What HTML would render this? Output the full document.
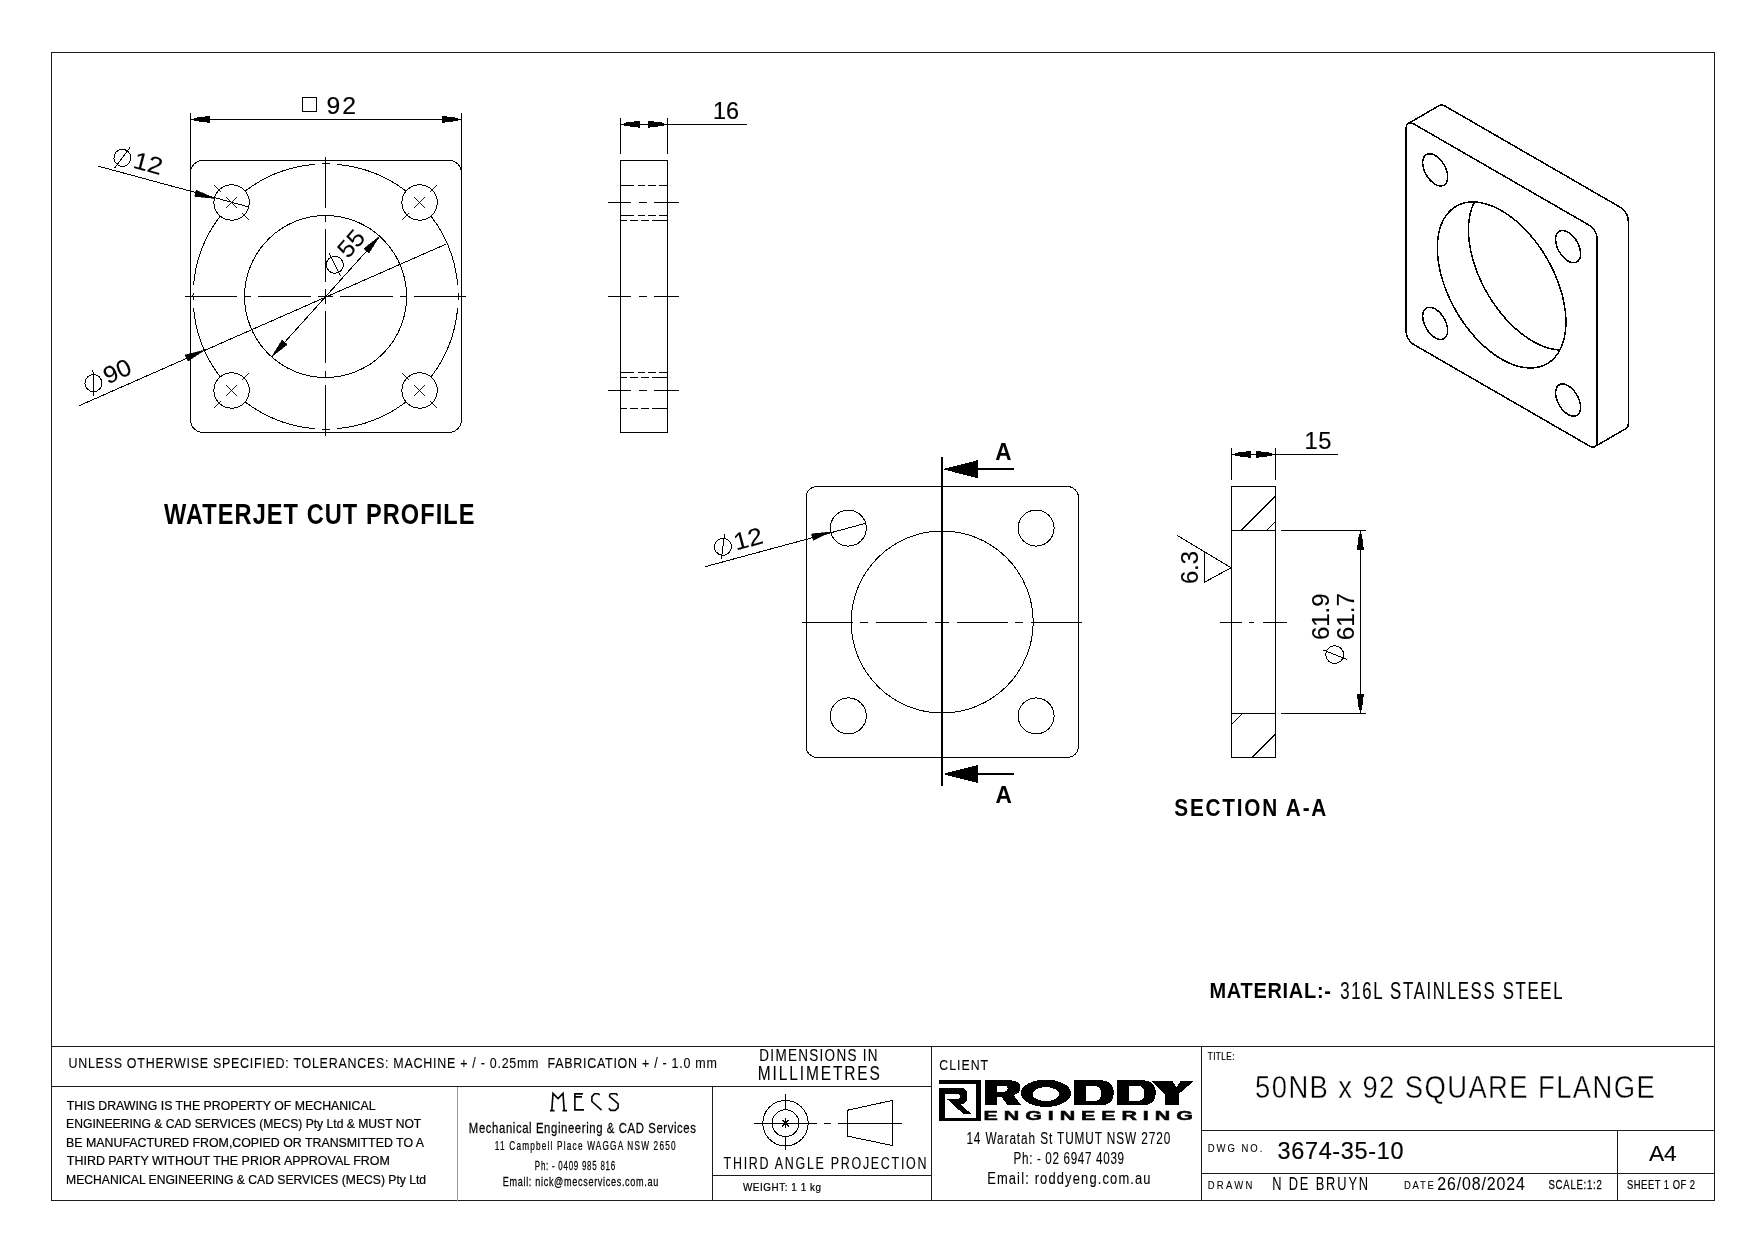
<!DOCTYPE html>
<html><head><meta charset="utf-8"><style>
html,body{margin:0;padding:0;background:#fff;overflow:hidden;}
svg{display:block;will-change:transform;}
text{font-family:"Liberation Sans",sans-serif;}
</style></head><body>
<svg width="1753" height="1240" viewBox="0 0 1753 1240" shape-rendering="crispEdges">
<rect x="0" y="0" width="1753" height="1240" fill="#fff"/>
<rect x="51.6" y="52.5" width="1662.8" height="1148" fill="none" stroke="#1a1a22" stroke-width="1.3"/>
<line x1="51.6" y1="1046.5" x2="1714.4" y2="1046.5" stroke="#1a1a22" stroke-width="1.3"/>
<line x1="51.6" y1="1086.5" x2="931.5" y2="1086.5" stroke="#1a1a22" stroke-width="1.3"/>
<line x1="457.5" y1="1086.5" x2="457.5" y2="1200.5" stroke="#9a9a9a" stroke-width="1"/>
<line x1="712.5" y1="1086.5" x2="712.5" y2="1200.5" stroke="#1a1a22" stroke-width="1.3"/>
<line x1="712.5" y1="1175.3" x2="931.5" y2="1175.3" stroke="#1a1a22" stroke-width="1.3"/>
<line x1="931.5" y1="1046.5" x2="931.5" y2="1200.5" stroke="#1a1a22" stroke-width="1.3"/>
<line x1="1201.5" y1="1046.5" x2="1201.5" y2="1200.5" stroke="#1a1a22" stroke-width="1.3"/>
<line x1="1201.5" y1="1130.3" x2="1714.4" y2="1130.3" stroke="#1a1a22" stroke-width="1.3"/>
<line x1="1201.5" y1="1173.4" x2="1714.4" y2="1173.4" stroke="#1a1a22" stroke-width="1.3"/>
<line x1="1617.6" y1="1130.3" x2="1617.6" y2="1200.5" stroke="#1a1a22" stroke-width="1.3"/>
<rect x="190.5" y="160.4" width="271" height="272" rx="12.5" fill="none" stroke="#000" stroke-width="1"/>
<circle cx="231.6" cy="202.5" r="17.7" fill="none" stroke="#000" stroke-width="1"/>
<line x1="226.3" y1="197.2" x2="236.9" y2="207.8" stroke="#000" stroke-width="0.9"/>
<line x1="226.3" y1="207.8" x2="236.9" y2="197.2" stroke="#000" stroke-width="0.9"/>
<line x1="220.99" y1="191.89" x2="214.28" y2="185.18" stroke="#000" stroke-width="0.9"/>
<line x1="242.21" y1="213.11" x2="248.92" y2="219.82" stroke="#000" stroke-width="0.9"/>
<circle cx="419.6" cy="202.5" r="17.7" fill="none" stroke="#000" stroke-width="1"/>
<line x1="414.3" y1="197.2" x2="424.9" y2="207.8" stroke="#000" stroke-width="0.9"/>
<line x1="414.3" y1="207.8" x2="424.9" y2="197.2" stroke="#000" stroke-width="0.9"/>
<line x1="430.21" y1="191.89" x2="436.92" y2="185.18" stroke="#000" stroke-width="0.9"/>
<line x1="408.99" y1="213.11" x2="402.28" y2="219.82" stroke="#000" stroke-width="0.9"/>
<circle cx="231.6" cy="390.5" r="17.7" fill="none" stroke="#000" stroke-width="1"/>
<line x1="226.3" y1="385.2" x2="236.9" y2="395.8" stroke="#000" stroke-width="0.9"/>
<line x1="226.3" y1="395.8" x2="236.9" y2="385.2" stroke="#000" stroke-width="0.9"/>
<line x1="220.99" y1="401.11" x2="214.28" y2="407.82" stroke="#000" stroke-width="0.9"/>
<line x1="242.21" y1="379.89" x2="248.92" y2="373.18" stroke="#000" stroke-width="0.9"/>
<circle cx="419.6" cy="390.5" r="17.7" fill="none" stroke="#000" stroke-width="1"/>
<line x1="414.3" y1="385.2" x2="424.9" y2="395.8" stroke="#000" stroke-width="0.9"/>
<line x1="414.3" y1="395.8" x2="424.9" y2="385.2" stroke="#000" stroke-width="0.9"/>
<line x1="430.21" y1="401.11" x2="436.92" y2="407.82" stroke="#000" stroke-width="0.9"/>
<line x1="408.99" y1="379.89" x2="402.28" y2="373.18" stroke="#000" stroke-width="0.9"/>
<circle cx="325.6" cy="296.5" r="81" fill="none" stroke="#000" stroke-width="1"/>
<path d="M245.43 190.88 A132.6 132.6 0 0 1 314.5 164.37" fill="none" stroke="#000" stroke-width="1"/>
<path d="M321.67 163.96 A132.6 132.6 0 0 1 329.53 163.96" fill="none" stroke="#000" stroke-width="1"/>
<path d="M336.7 164.37 A132.6 132.6 0 0 1 405.77 190.88" fill="none" stroke="#000" stroke-width="1"/>
<path d="M431.22 216.33 A132.6 132.6 0 0 1 457.73 285.4" fill="none" stroke="#000" stroke-width="1"/>
<path d="M458.14 292.57 A132.6 132.6 0 0 1 458.14 300.43" fill="none" stroke="#000" stroke-width="1"/>
<path d="M457.73 307.6 A132.6 132.6 0 0 1 431.22 376.67" fill="none" stroke="#000" stroke-width="1"/>
<path d="M405.77 402.12 A132.6 132.6 0 0 1 336.7 428.63" fill="none" stroke="#000" stroke-width="1"/>
<path d="M329.53 429.04 A132.6 132.6 0 0 1 321.67 429.04" fill="none" stroke="#000" stroke-width="1"/>
<path d="M314.5 428.63 A132.6 132.6 0 0 1 245.43 402.12" fill="none" stroke="#000" stroke-width="1"/>
<path d="M219.98 376.67 A132.6 132.6 0 0 1 193.47 307.6" fill="none" stroke="#000" stroke-width="1"/>
<path d="M193.06 300.43 A132.6 132.6 0 0 1 193.06 292.57" fill="none" stroke="#000" stroke-width="1"/>
<path d="M193.47 285.4 A132.6 132.6 0 0 1 219.98 216.33" fill="none" stroke="#000" stroke-width="1"/>
<line x1="325.6" y1="296.5" x2="332.9" y2="296.5" stroke="#000" stroke-width="1"/>
<line x1="325.6" y1="296.5" x2="318.3" y2="296.5" stroke="#000" stroke-width="1"/>
<line x1="340.3" y1="296.5" x2="392.8" y2="296.5" stroke="#000" stroke-width="1"/>
<line x1="310.9" y1="296.5" x2="258.4" y2="296.5" stroke="#000" stroke-width="1"/>
<line x1="400.2" y1="296.5" x2="406.9" y2="296.5" stroke="#000" stroke-width="1"/>
<line x1="251" y1="296.5" x2="244.3" y2="296.5" stroke="#000" stroke-width="1"/>
<line x1="414.3" y1="296.5" x2="466.4" y2="296.5" stroke="#000" stroke-width="1"/>
<line x1="236.9" y1="296.5" x2="184.8" y2="296.5" stroke="#000" stroke-width="1"/>
<line x1="325.6" y1="296.2" x2="325.6" y2="303.5" stroke="#000" stroke-width="1"/>
<line x1="325.6" y1="296.2" x2="325.6" y2="288.9" stroke="#000" stroke-width="1"/>
<line x1="325.6" y1="310.9" x2="325.6" y2="363.4" stroke="#000" stroke-width="1"/>
<line x1="325.6" y1="281.5" x2="325.6" y2="229" stroke="#000" stroke-width="1"/>
<line x1="325.6" y1="370.8" x2="325.6" y2="377.5" stroke="#000" stroke-width="1"/>
<line x1="325.6" y1="221.6" x2="325.6" y2="214.9" stroke="#000" stroke-width="1"/>
<line x1="325.6" y1="384.9" x2="325.6" y2="435.7" stroke="#000" stroke-width="1"/>
<line x1="325.6" y1="207.5" x2="325.6" y2="156.7" stroke="#000" stroke-width="1"/>
<line x1="190.5" y1="113.2" x2="190.5" y2="168.5" stroke="#000" stroke-width="1"/>
<line x1="461.5" y1="113.2" x2="461.5" y2="168.5" stroke="#000" stroke-width="1"/>
<line x1="190.5" y1="119.4" x2="461.5" y2="119.4" stroke="#000" stroke-width="1"/>
<path d="M193.95 117.9 L209.95 115.9 L209.95 122.9 L193.95 120.9 Z" fill="#000"/>
<path d="M458 120.9 L442 122.9 L442 115.9 L458 117.9 Z" fill="#000"/>
<rect x="302.5" y="97.5" width="14" height="14" fill="none" stroke="#000" stroke-width="1"/>
<line x1="97.6" y1="166" x2="248.4" y2="206.8" stroke="#000" stroke-width="1"/>
<path d="M214.2 198.4 L194.51 196.49 L196.24 190.12 Z" fill="#000" stroke="#000" stroke-width="0.6" stroke-linejoin="miter"/>
<line x1="79.4" y1="405.6" x2="446.5" y2="243.9" stroke="#000" stroke-width="1"/>
<path d="M204.4 350.2 L187.88 361.08 L185.22 355.04 Z" fill="#000" stroke="#000" stroke-width="0.6" stroke-linejoin="miter"/>
<line x1="271.6" y1="356.8" x2="379.4" y2="236.8" stroke="#000" stroke-width="1"/>
<path d="M379.4 236.4 L368.9 253.18 L363.84 248.63 Z" fill="#000" stroke="#000" stroke-width="0.6" stroke-linejoin="miter"/>
<path d="M271.6 356.8 L282.1 340.02 L287.16 344.57 Z" fill="#000" stroke="#000" stroke-width="0.6" stroke-linejoin="miter"/>
<rect x="620.5" y="160.5" width="47" height="271.8" fill="none" stroke="#000" stroke-width="1.1"/>
<line x1="620.4" y1="185" x2="633.9" y2="185" stroke="#000" stroke-width="1"/>
<line x1="638.1" y1="185" x2="645" y2="185" stroke="#000" stroke-width="1"/>
<line x1="648.1" y1="185" x2="656.1" y2="185" stroke="#000" stroke-width="1"/>
<line x1="659.2" y1="185" x2="667.5" y2="185" stroke="#000" stroke-width="1"/>
<line x1="620.4" y1="215.5" x2="633.9" y2="215.5" stroke="#000" stroke-width="1"/>
<line x1="638.1" y1="215.5" x2="645" y2="215.5" stroke="#000" stroke-width="1"/>
<line x1="648.1" y1="215.5" x2="656.1" y2="215.5" stroke="#000" stroke-width="1"/>
<line x1="659.2" y1="215.5" x2="667.5" y2="215.5" stroke="#000" stroke-width="1"/>
<line x1="620.4" y1="220.2" x2="626.8" y2="220.2" stroke="#000" stroke-width="1"/>
<line x1="630.2" y1="220.2" x2="637.8" y2="220.2" stroke="#000" stroke-width="1"/>
<line x1="641.1" y1="220.2" x2="648.9" y2="220.2" stroke="#000" stroke-width="1"/>
<line x1="652" y1="220.2" x2="667.5" y2="220.2" stroke="#000" stroke-width="1"/>
<line x1="620.4" y1="372.6" x2="633.9" y2="372.6" stroke="#000" stroke-width="1"/>
<line x1="638.1" y1="372.6" x2="645" y2="372.6" stroke="#000" stroke-width="1"/>
<line x1="648.1" y1="372.6" x2="656.1" y2="372.6" stroke="#000" stroke-width="1"/>
<line x1="659.2" y1="372.6" x2="667.5" y2="372.6" stroke="#000" stroke-width="1"/>
<line x1="620.4" y1="377.4" x2="626.8" y2="377.4" stroke="#000" stroke-width="1"/>
<line x1="630.2" y1="377.4" x2="637.8" y2="377.4" stroke="#000" stroke-width="1"/>
<line x1="641.1" y1="377.4" x2="648.9" y2="377.4" stroke="#000" stroke-width="1"/>
<line x1="652" y1="377.4" x2="667.5" y2="377.4" stroke="#000" stroke-width="1"/>
<line x1="620.4" y1="408.2" x2="626.8" y2="408.2" stroke="#000" stroke-width="1"/>
<line x1="630.2" y1="408.2" x2="637.8" y2="408.2" stroke="#000" stroke-width="1"/>
<line x1="641.1" y1="408.2" x2="648.9" y2="408.2" stroke="#000" stroke-width="1"/>
<line x1="652" y1="408.2" x2="667.5" y2="408.2" stroke="#000" stroke-width="1"/>
<line x1="607.8" y1="202.5" x2="631.2" y2="202.5" stroke="#000" stroke-width="1"/>
<line x1="639.1" y1="202.5" x2="646.9" y2="202.5" stroke="#000" stroke-width="1"/>
<line x1="654.2" y1="202.5" x2="679.1" y2="202.5" stroke="#000" stroke-width="1"/>
<line x1="607.8" y1="296.5" x2="631.2" y2="296.5" stroke="#000" stroke-width="1"/>
<line x1="639.1" y1="296.5" x2="646.9" y2="296.5" stroke="#000" stroke-width="1"/>
<line x1="654.2" y1="296.5" x2="679.1" y2="296.5" stroke="#000" stroke-width="1"/>
<line x1="607.8" y1="390.3" x2="631.2" y2="390.3" stroke="#000" stroke-width="1"/>
<line x1="639.1" y1="390.3" x2="646.9" y2="390.3" stroke="#000" stroke-width="1"/>
<line x1="654.2" y1="390.3" x2="679.1" y2="390.3" stroke="#000" stroke-width="1"/>
<line x1="620.5" y1="118" x2="620.5" y2="154.4" stroke="#000" stroke-width="1"/>
<line x1="667.5" y1="118" x2="667.5" y2="154.4" stroke="#000" stroke-width="1"/>
<line x1="620.5" y1="124.3" x2="747" y2="124.3" stroke="#000" stroke-width="1"/>
<path d="M623.9 122.8 L639.9 120.8 L639.9 127.8 L623.9 125.8 Z" fill="#000"/>
<path d="M664 125.8 L648 127.8 L648 120.8 L664 122.8 Z" fill="#000"/>
<rect x="806" y="486.5" width="272.5" height="270.9" rx="11.2" fill="none" stroke="#000" stroke-width="1"/>
<circle cx="848.3" cy="528.1" r="18" fill="none" stroke="#000" stroke-width="1"/>
<circle cx="1036.1" cy="528.1" r="18" fill="none" stroke="#000" stroke-width="1"/>
<circle cx="848.3" cy="715.9" r="18" fill="none" stroke="#000" stroke-width="1"/>
<circle cx="1036.1" cy="715.9" r="18" fill="none" stroke="#000" stroke-width="1"/>
<circle cx="942.2" cy="622" r="91" fill="none" stroke="#000" stroke-width="1"/>
<line x1="802" y1="622.2" x2="852.5" y2="622.2" stroke="#000" stroke-width="1"/>
<line x1="860.2" y1="622.2" x2="867.9" y2="622.2" stroke="#000" stroke-width="1"/>
<line x1="875.6" y1="622.2" x2="926.9" y2="622.2" stroke="#000" stroke-width="1"/>
<line x1="935.1" y1="622.2" x2="948.8" y2="622.2" stroke="#000" stroke-width="1"/>
<line x1="956.9" y1="622.2" x2="1008.2" y2="622.2" stroke="#000" stroke-width="1"/>
<line x1="1015" y1="622.2" x2="1022.8" y2="622.2" stroke="#000" stroke-width="1"/>
<line x1="1030.5" y1="622.2" x2="1082" y2="622.2" stroke="#000" stroke-width="1"/>
<line x1="942" y1="457" x2="942" y2="786.3" stroke="#000" stroke-width="2"/>
<line x1="977" y1="469.2" x2="1013.8" y2="469.2" stroke="#000" stroke-width="2"/>
<path d="M942.6 469.2 L977.7 460.2 L977.7 478.2 Z" fill="#000"/>
<line x1="977" y1="774" x2="1013.8" y2="774" stroke="#000" stroke-width="2"/>
<path d="M942.6 774 L977.7 765 L977.7 783 Z" fill="#000"/>
<line x1="705.1" y1="566.7" x2="865.4" y2="523.4" stroke="#000" stroke-width="1"/>
<path d="M831.2 531.9 L813.24 540.17 L811.51 533.8 Z" fill="#000" stroke="#000" stroke-width="0.6" stroke-linejoin="miter"/>
<rect x="1231.7" y="486.5" width="43.6" height="270.8" fill="none" stroke="#000" stroke-width="1.1"/>
<line x1="1231.7" y1="530.3" x2="1275.3" y2="530.3" stroke="#000" stroke-width="1"/>
<line x1="1231.7" y1="713.3" x2="1275.3" y2="713.3" stroke="#000" stroke-width="1"/>
<line x1="1241.1" y1="530.3" x2="1275.3" y2="496.1" stroke="#000" stroke-width="1"/>
<line x1="1267" y1="530.3" x2="1275.3" y2="522" stroke="#000" stroke-width="1"/>
<line x1="1231.7" y1="724.5" x2="1242.5" y2="713.3" stroke="#000" stroke-width="1"/>
<line x1="1252.3" y1="757.3" x2="1275.3" y2="734.3" stroke="#000" stroke-width="1"/>
<line x1="1220" y1="622.3" x2="1241.9" y2="622.3" stroke="#000" stroke-width="1"/>
<line x1="1249" y1="622.3" x2="1254.2" y2="622.3" stroke="#000" stroke-width="1"/>
<line x1="1263.2" y1="622.3" x2="1286.8" y2="622.3" stroke="#000" stroke-width="1"/>
<line x1="1231.7" y1="448.3" x2="1231.7" y2="479.5" stroke="#000" stroke-width="1"/>
<line x1="1275.3" y1="448.3" x2="1275.3" y2="479.5" stroke="#000" stroke-width="1"/>
<line x1="1231.7" y1="454.4" x2="1337.7" y2="454.4" stroke="#000" stroke-width="1"/>
<path d="M1235.2 452.9 L1251.2 450.9 L1251.2 457.9 L1235.2 455.9 Z" fill="#000"/>
<path d="M1271.8 455.9 L1255.8 457.9 L1255.8 450.9 L1271.8 452.9 Z" fill="#000"/>
<line x1="1281" y1="530.3" x2="1365.8" y2="530.3" stroke="#000" stroke-width="1"/>
<line x1="1281" y1="713.3" x2="1365.8" y2="713.3" stroke="#000" stroke-width="1"/>
<line x1="1360.4" y1="530.3" x2="1360.4" y2="713.3" stroke="#000" stroke-width="1"/>
<path d="M1361.9 533.8 L1363.9 549.8 L1356.9 549.8 L1358.9 533.8 Z" fill="#000"/>
<path d="M1358.9 709.8 L1356.9 693.8 L1363.9 693.8 L1361.9 709.8 Z" fill="#000"/>
<path d="M1177.3 535.4 L1231 567.8 L1204.4 582.3 L1204.4 552.1" fill="none" stroke="#000" stroke-width="1" stroke-linejoin="round"/>
<path d="M1406.1 128.37 L1406.14 127.52 L1406.25 126.73 L1406.43 125.99 L1406.68 125.31 L1407.01 124.71 L1407.39 124.19 L1407.84 123.75 L1408.35 123.4 L1439.45 105.45 L1440.01 105.19 L1440.61 105.02 L1441.26 104.94 L1441.94 104.96 L1442.65 105.08 L1443.38 105.29 L1444.13 105.59 L1444.88 105.99 L1620.57 207.42 L1621.32 207.9 L1622.07 208.46 L1622.8 209.09 L1623.51 209.79 L1624.19 210.56 L1624.84 211.38 L1625.44 212.25 L1626 213.16 L1626.51 214.09 L1626.96 215.05 L1627.35 216.02 L1627.67 217 L1627.92 217.96 L1628.11 218.91 L1628.22 219.84 L1628.25 220.73 L1628.25 423.6 L1628.22 424.45 L1628.11 425.25 L1627.92 425.99 L1627.67 426.66 L1627.35 427.26 L1626.96 427.78 L1626.51 428.22 L1626 428.58 L1594.9 446.53 L1594.34 446.79 L1593.74 446.96 L1593.09 447.03 L1592.41 447.01 L1591.7 446.89 L1590.97 446.68 L1590.22 446.38 L1589.47 445.99 L1413.78 344.55 L1413.03 344.07 L1412.28 343.52 L1411.55 342.88 L1410.84 342.18 L1410.16 341.41 L1409.51 340.59 L1408.91 339.72 L1408.35 338.82 L1407.84 337.88 L1407.39 336.92 L1407.01 335.95 L1406.68 334.98 L1406.43 334.01 L1406.25 333.06 L1406.14 332.13 L1406.1 331.24 Z" fill="none" stroke="#000" stroke-width="1.5" stroke-linejoin="round"/>
<path d="M1589.47 225.37 L1590.22 225.85 L1590.97 226.41 L1591.7 227.04 L1592.41 227.74 L1593.09 228.51 L1593.74 229.33 L1594.34 230.2 L1594.9 231.11 L1595.41 232.04 L1595.86 233 L1596.25 233.97 L1596.57 234.95 L1596.82 235.91 L1597.01 236.86 L1597.12 237.79 L1597.15 238.68 L1597.15 441.55 L1597.12 442.4 L1597.01 443.2 L1596.82 443.94 L1596.57 444.61 L1596.25 445.21 L1595.86 445.73 L1595.41 446.17 L1594.9 446.53 L1594.34 446.79 L1593.74 446.96 L1593.09 447.03 L1592.41 447.01 L1591.7 446.89 L1590.97 446.68 L1590.22 446.38 L1589.47 445.99 L1413.78 344.55 L1413.03 344.07 L1412.28 343.52 L1411.55 342.88 L1410.84 342.18 L1410.16 341.41 L1409.51 340.59 L1408.91 339.72 L1408.35 338.82 L1407.84 337.88 L1407.39 336.92 L1407.01 335.95 L1406.68 334.98 L1406.43 334.01 L1406.25 333.06 L1406.14 332.13 L1406.1 331.24 L1406.1 128.37 L1406.14 127.52 L1406.25 126.73 L1406.43 125.99 L1406.68 125.31 L1407.01 124.71 L1407.39 124.19 L1407.84 123.75 L1408.35 123.4 L1408.91 123.14 L1409.51 122.97 L1410.16 122.89 L1410.84 122.91 L1411.55 123.03 L1412.28 123.24 L1413.03 123.54 L1413.78 123.94 Z" fill="none" stroke="#000" stroke-width="1.5" stroke-linejoin="round"/>
<path d="M1447.63 177.05 L1447.59 178.28 L1447.44 179.44 L1447.21 180.53 L1446.88 181.54 L1446.47 182.46 L1445.96 183.28 L1445.38 184 L1444.72 184.62 L1443.98 185.12 L1443.18 185.5 L1442.32 185.77 L1441.4 185.92 L1440.44 185.94 L1439.43 185.84 L1438.4 185.62 L1437.34 185.28 L1436.26 184.82 L1435.17 184.25 L1434.09 183.56 L1433.01 182.78 L1431.95 181.89 L1430.91 180.92 L1429.91 179.86 L1428.94 178.72 L1428.03 177.52 L1427.16 176.26 L1426.36 174.94 L1425.63 173.6 L1424.97 172.22 L1424.38 170.82 L1423.88 169.42 L1423.46 168.02 L1423.14 166.63 L1422.9 165.27 L1422.76 163.95 L1422.71 162.66 L1422.76 161.44 L1422.9 160.27 L1423.14 159.19 L1423.46 158.18 L1423.88 157.26 L1424.38 156.43 L1424.97 155.71 L1425.63 155.1 L1426.36 154.6 L1427.16 154.21 L1428.03 153.95 L1428.94 153.8 L1429.91 153.78 L1430.91 153.88 L1431.95 154.1 L1433.01 154.44 L1434.09 154.9 L1435.17 155.47 L1436.26 156.15 L1437.34 156.94 L1438.4 157.82 L1439.43 158.8 L1440.44 159.86 L1441.4 160.99 L1442.32 162.2 L1443.18 163.46 L1443.98 164.77 L1444.72 166.12 L1445.38 167.5 L1445.96 168.89 L1446.47 170.3 L1446.88 171.7 L1447.21 173.08 L1447.44 174.44 L1447.59 175.77 Z" fill="none" stroke="#000" stroke-width="1.5" stroke-linejoin="round"/>
<path d="M1580.54 253.79 L1580.49 255.01 L1580.35 256.18 L1580.12 257.27 L1579.79 258.28 L1579.37 259.19 L1578.87 260.02 L1578.29 260.74 L1577.63 261.35 L1576.89 261.85 L1576.09 262.24 L1575.23 262.51 L1574.31 262.65 L1573.35 262.67 L1572.34 262.57 L1571.3 262.35 L1570.24 262.01 L1569.17 261.55 L1568.08 260.98 L1566.99 260.3 L1565.92 259.51 L1564.86 258.63 L1563.82 257.65 L1562.81 256.59 L1561.85 255.46 L1560.93 254.25 L1560.07 252.99 L1559.27 251.68 L1558.54 250.33 L1557.87 248.95 L1557.29 247.56 L1556.79 246.15 L1556.37 244.75 L1556.04 243.37 L1555.81 242.01 L1555.67 240.68 L1555.62 239.4 L1555.67 238.17 L1555.81 237.01 L1556.04 235.92 L1556.37 234.91 L1556.79 233.99 L1557.29 233.17 L1557.87 232.45 L1558.54 231.83 L1559.27 231.33 L1560.07 230.95 L1560.93 230.68 L1561.85 230.54 L1562.81 230.51 L1563.82 230.61 L1564.86 230.83 L1565.92 231.18 L1566.99 231.63 L1568.08 232.21 L1569.17 232.89 L1570.24 233.67 L1571.3 234.56 L1572.34 235.53 L1573.35 236.59 L1574.31 237.73 L1575.23 238.93 L1576.09 240.2 L1576.89 241.51 L1577.63 242.86 L1578.29 244.23 L1578.87 245.63 L1579.37 247.03 L1579.79 248.43 L1580.12 249.82 L1580.35 251.18 L1580.49 252.51 Z" fill="none" stroke="#000" stroke-width="1.5" stroke-linejoin="round"/>
<path d="M1447.63 330.52 L1447.59 331.75 L1447.44 332.91 L1447.21 334 L1446.88 335.01 L1446.47 335.93 L1445.96 336.75 L1445.38 337.48 L1444.72 338.09 L1443.98 338.59 L1443.18 338.98 L1442.32 339.24 L1441.4 339.39 L1440.44 339.41 L1439.43 339.31 L1438.4 339.09 L1437.34 338.75 L1436.26 338.29 L1435.17 337.72 L1434.09 337.04 L1433.01 336.25 L1431.95 335.37 L1430.91 334.39 L1429.91 333.33 L1428.94 332.19 L1428.03 330.99 L1427.16 329.73 L1426.36 328.42 L1425.63 327.07 L1424.97 325.69 L1424.38 324.29 L1423.88 322.89 L1423.46 321.49 L1423.14 320.11 L1422.9 318.74 L1422.76 317.42 L1422.71 316.14 L1422.76 314.91 L1422.9 313.75 L1423.14 312.66 L1423.46 311.65 L1423.88 310.73 L1424.38 309.91 L1424.97 309.18 L1425.63 308.57 L1426.36 308.07 L1427.16 307.68 L1428.03 307.42 L1428.94 307.27 L1429.91 307.25 L1430.91 307.35 L1431.95 307.57 L1433.01 307.91 L1434.09 308.37 L1435.17 308.94 L1436.26 309.62 L1437.34 310.41 L1438.4 311.29 L1439.43 312.27 L1440.44 313.33 L1441.4 314.47 L1442.32 315.67 L1443.18 316.93 L1443.98 318.24 L1444.72 319.59 L1445.38 320.97 L1445.96 322.37 L1446.47 323.77 L1446.88 325.17 L1447.21 326.55 L1447.44 327.92 L1447.59 329.24 Z" fill="none" stroke="#000" stroke-width="1.5" stroke-linejoin="round"/>
<path d="M1580.54 407.26 L1580.49 408.49 L1580.35 409.65 L1580.12 410.74 L1579.79 411.75 L1579.37 412.67 L1578.87 413.49 L1578.29 414.21 L1577.63 414.83 L1576.89 415.33 L1576.09 415.71 L1575.23 415.98 L1574.31 416.12 L1573.35 416.15 L1572.34 416.05 L1571.3 415.83 L1570.24 415.48 L1569.17 415.03 L1568.08 414.45 L1566.99 413.77 L1565.92 412.99 L1564.86 412.1 L1563.82 411.13 L1562.81 410.07 L1561.85 408.93 L1560.93 407.73 L1560.07 406.46 L1559.27 405.15 L1558.54 403.8 L1557.87 402.43 L1557.29 401.03 L1556.79 399.63 L1556.37 398.23 L1556.04 396.84 L1555.81 395.48 L1555.67 394.15 L1555.62 392.87 L1555.67 391.65 L1555.81 390.48 L1556.04 389.39 L1556.37 388.38 L1556.79 387.47 L1557.29 386.64 L1557.87 385.92 L1558.54 385.31 L1559.27 384.81 L1560.07 384.42 L1560.93 384.15 L1561.85 384.01 L1562.81 383.99 L1563.82 384.09 L1564.86 384.31 L1565.92 384.65 L1566.99 385.11 L1568.08 385.68 L1569.17 386.36 L1570.24 387.15 L1571.3 388.03 L1572.34 389.01 L1573.35 390.07 L1574.31 391.2 L1575.23 392.41 L1576.09 393.67 L1576.89 394.98 L1577.63 396.33 L1578.29 397.71 L1578.87 399.1 L1579.37 400.51 L1579.79 401.91 L1580.12 403.29 L1580.35 404.65 L1580.49 405.98 Z" fill="none" stroke="#000" stroke-width="1.5" stroke-linejoin="round"/>
<path d="M1565.9 322.07 L1565.86 324.64 L1565.74 327.16 L1565.55 329.63 L1565.27 332.04 L1564.92 334.4 L1564.5 336.69 L1563.99 338.92 L1563.41 341.09 L1562.75 343.19 L1562.02 345.22 L1561.22 347.17 L1560.34 349.05 L1559.39 350.85 L1558.38 352.57 L1557.29 354.21 L1556.13 355.76 L1554.91 357.23 L1553.62 358.61 L1552.27 359.9 L1550.86 361.1 L1549.39 362.2 L1547.86 363.21 L1546.27 364.13 L1544.63 364.95 L1542.94 365.67 L1541.2 366.29 L1539.41 366.82 L1537.57 367.24 L1535.69 367.57 L1533.76 367.79 L1531.8 367.91 L1529.8 367.94 L1527.77 367.86 L1525.7 367.68 L1523.61 367.4 L1521.49 367.01 L1519.34 366.53 L1517.18 365.95 L1514.99 365.27 L1512.79 364.5 L1510.57 363.62 L1508.35 362.65 L1506.11 361.59 L1503.87 360.43 L1501.63 359.18 L1499.38 357.84 L1497.14 356.41 L1494.91 354.89 L1492.68 353.29 L1490.47 351.61 L1488.26 349.84 L1486.08 348 L1483.91 346.08 L1481.77 344.08 L1479.64 342.01 L1477.55 339.87 L1475.48 337.67 L1473.45 335.4 L1471.45 333.07 L1469.49 330.68 L1467.57 328.24 L1465.69 325.74 L1463.85 323.19 L1462.06 320.6 L1460.31 317.96 L1458.62 315.29 L1456.98 312.57 L1455.39 309.82 L1453.86 307.05 L1452.39 304.24 L1450.98 301.41 L1449.63 298.56 L1448.34 295.7 L1447.12 292.82 L1445.96 289.93 L1444.88 287.04 L1443.86 284.14 L1442.91 281.25 L1442.03 278.36 L1441.23 275.47 L1440.5 272.6 L1439.84 269.75 L1439.26 266.91 L1438.76 264.09 L1438.33 261.3 L1437.98 258.54 L1437.71 255.81 L1437.51 253.12 L1437.39 250.47 L1437.35 247.85 L1437.39 245.29 L1437.51 242.77 L1437.71 240.3 L1437.98 237.88 L1438.33 235.53 L1438.76 233.23 L1439.26 231 L1439.84 228.83 L1440.5 226.73 L1441.23 224.71 L1442.03 222.75 L1442.91 220.87 L1443.86 219.07 L1444.88 217.35 L1445.96 215.72 L1447.12 214.16 L1448.34 212.69 L1449.63 211.32 L1450.98 210.03 L1452.39 208.83 L1453.86 207.72 L1455.39 206.71 L1456.98 205.8 L1458.62 204.98 L1460.31 204.25 L1462.06 203.63 L1463.85 203.11 L1465.69 202.68 L1467.57 202.36 L1469.49 202.13 L1471.45 202.01 L1473.45 201.99 L1475.48 202.07 L1477.55 202.25 L1479.64 202.53 L1481.77 202.91 L1483.91 203.39 L1486.08 203.97 L1488.26 204.65 L1490.47 205.43 L1492.68 206.3 L1494.91 207.27 L1497.14 208.34 L1499.38 209.49 L1501.63 210.74 L1503.87 212.08 L1506.11 213.51 L1508.35 215.03 L1510.57 216.63 L1512.79 218.32 L1514.99 220.08 L1517.18 221.93 L1519.34 223.85 L1521.49 225.84 L1523.61 227.91 L1525.7 230.05 L1527.77 232.25 L1529.8 234.52 L1531.8 236.85 L1533.76 239.24 L1535.69 241.69 L1537.57 244.18 L1539.41 246.73 L1541.2 249.32 L1542.94 251.96 L1544.63 254.64 L1546.27 257.35 L1547.86 260.1 L1549.39 262.88 L1550.86 265.68 L1552.27 268.51 L1553.62 271.36 L1554.91 274.22 L1556.13 277.1 L1557.29 279.99 L1558.38 282.88 L1559.39 285.78 L1560.34 288.68 L1561.22 291.57 L1562.02 294.45 L1562.75 297.32 L1563.41 300.18 L1563.99 303.01 L1564.5 305.83 L1564.92 308.62 L1565.27 311.38 L1565.55 314.11 L1565.74 316.8 L1565.86 319.46 Z" fill="none" stroke="#000" stroke-width="1.5" stroke-linejoin="round"/>
<path d="M1559.38 349.94 L1558.87 349.91 L1558.36 349.87 L1557.84 349.83 L1557.32 349.78 L1556.8 349.73 L1556.28 349.67 L1555.76 349.6 L1555.24 349.53 L1554.71 349.45 L1554.18 349.36 L1553.65 349.27 L1553.12 349.17 L1552.59 349.06 L1552.05 348.95 L1551.52 348.84 L1550.98 348.71 L1550.44 348.58 L1549.9 348.45 L1549.36 348.31 L1548.82 348.16 L1548.28 348 L1547.73 347.84 L1547.18 347.68 L1546.64 347.5 L1546.09 347.32 L1545.54 347.14 L1544.99 346.95 L1544.44 346.75 L1543.89 346.55 L1543.33 346.34 L1542.78 346.12 L1542.23 345.9 L1541.67 345.67 L1541.12 345.44 L1540.56 345.2 L1540 344.95 L1539.45 344.7 L1538.89 344.45 L1538.33 344.18 L1537.77 343.91 L1537.21 343.64 L1536.65 343.36 L1536.09 343.07 L1535.53 342.78 L1534.97 342.48 L1534.41 342.18 L1533.85 341.87 L1533.29 341.55 L1532.73 341.23 L1532.17 340.9 L1531.61 340.57 L1531.04 340.23 L1530.48 339.89 L1529.92 339.54 L1529.36 339.19 L1528.8 338.83 L1528.24 338.46 L1527.68 338.09 L1527.12 337.71 L1526.57 337.33 L1526.01 336.94 L1525.45 336.55 L1524.89 336.15 L1524.34 335.75 L1523.78 335.34 L1523.23 334.93 L1522.67 334.51 L1522.12 334.09 L1521.57 333.66 L1521.01 333.22 L1520.46 332.79 L1519.91 332.34 L1519.36 331.89 L1518.82 331.44 L1518.27 330.98 L1517.72 330.52 L1517.18 330.05 L1516.63 329.57 L1516.09 329.1 L1515.55 328.61 L1515.01 328.13 L1514.47 327.63 L1513.94 327.14 L1513.4 326.64 L1512.87 326.13 L1512.33 325.62 L1511.8 325.11 L1511.27 324.59 L1510.74 324.06 L1510.22 323.53 L1509.69 323 L1509.17 322.47 L1508.65 321.92 L1508.13 321.38 L1507.61 320.83 L1507.1 320.28 L1506.58 319.72 L1506.07 319.16 L1505.56 318.59 L1505.06 318.02 L1504.55 317.45 L1504.05 316.87 L1503.55 316.29 L1503.05 315.71 L1502.55 315.12 L1502.06 314.53 L1501.57 313.93 L1501.08 313.33 L1500.59 312.73 L1500.11 312.13 L1499.62 311.52 L1499.14 310.9 L1498.67 310.29 L1498.19 309.67 L1497.72 309.05 L1497.25 308.42 L1496.79 307.79 L1496.32 307.16 L1495.86 306.52 L1495.4 305.88 L1494.95 305.24 L1494.5 304.6 L1494.05 303.95 L1493.6 303.3 L1493.16 302.65 L1492.72 301.99 L1492.28 301.34 L1491.84 300.68 L1491.41 300.01 L1490.98 299.35 L1490.56 298.68 L1490.14 298.01 L1489.72 297.34 L1489.3 296.66 L1488.89 295.98 L1488.48 295.3 L1488.08 294.62 L1487.68 293.94 L1487.28 293.25 L1486.88 292.56 L1486.49 291.87 L1486.1 291.18 L1485.72 290.49 L1485.34 289.79 L1484.96 289.1 L1484.59 288.4 L1484.22 287.7 L1483.85 286.99 L1483.49 286.29 L1483.13 285.59 L1482.78 284.88 L1482.43 284.17 L1482.08 283.46 L1481.74 282.75 L1481.4 282.04 L1481.06 281.33 L1480.73 280.61 L1480.4 279.9 L1480.08 279.18 L1479.76 278.47 L1479.44 277.75 L1479.13 277.03 L1478.82 276.31 L1478.52 275.59 L1478.22 274.87 L1477.93 274.15 L1477.63 273.43 L1477.35 272.71 L1477.06 271.98 L1476.79 271.26 L1476.51 270.54 L1476.24 269.81 L1475.98 269.09 L1475.72 268.37 L1475.46 267.64 L1475.21 266.92 L1474.96 266.19 L1474.71 265.47 L1474.48 264.75 L1474.24 264.02 L1474.01 263.3 L1473.78 262.58 L1473.56 261.85 L1473.35 261.13 L1473.13 260.41 L1472.93 259.69 L1472.72 258.97 L1472.52 258.24 L1472.33 257.52 L1472.14 256.81 L1471.96 256.09 L1471.78 255.37 L1471.6 254.65 L1471.43 253.94 L1471.26 253.22 L1471.1 252.51 L1470.94 251.8 L1470.79 251.09 L1470.64 250.38 L1470.5 249.67 L1470.36 248.96 L1470.23 248.25 L1470.1 247.55 L1469.98 246.85 L1469.86 246.14 L1469.74 245.44 L1469.63 244.75 L1469.53 244.05 L1469.43 243.35 L1469.34 242.66 L1469.25 241.97 L1469.16 241.28 L1469.08 240.59 L1469 239.91 L1468.93 239.22 L1468.87 238.54 L1468.81 237.86 L1468.75 237.19 L1468.7 236.51 L1468.65 235.84 L1468.61 235.17 L1468.57 234.5 L1468.54 233.84 L1468.52 233.18 L1468.49 232.52 L1468.48 231.86 L1468.46 231.2 L1468.46 230.55 L1468.45 229.9 L1468.46 229.26 L1468.46 228.61 L1468.48 227.97 L1468.49 227.34 L1468.52 226.7 L1468.54 226.07 L1468.57 225.44 L1468.61 224.82 L1468.65 224.19 L1468.7 223.58 L1468.75 222.96 L1468.81 222.35 L1468.87 221.74 L1468.93 221.13 L1469 220.53 L1469.08 219.93 L1469.16 219.34 L1469.25 218.75 L1469.34 218.16 L1469.43 217.58 L1469.53 217 L1469.63 216.42 L1469.74 215.85 L1469.86 215.28 L1469.98 214.72 L1470.1 214.16 L1470.23 213.6 L1470.36 213.05 L1470.5 212.5 L1470.64 211.96 L1470.79 211.42 L1470.94 210.88 L1471.1 210.35 L1471.26 209.83 L1471.43 209.3 L1471.6 208.78 L1471.78 208.27 L1471.96 207.76 L1472.14 207.26 L1472.33 206.76 L1472.52 206.26 L1472.72 205.77 L1472.93 205.28 L1473.13 204.8 L1473.35 204.33 L1473.56 203.85 L1473.78 203.39 L1474.01 202.92 L1474.24 202.47" fill="none" stroke="#000" stroke-width="1.5" stroke-linejoin="round"/>
<circle cx="785.5" cy="1123.2" r="22.7" fill="none" stroke="#000" stroke-width="1"/>
<circle cx="785.5" cy="1123.2" r="13.4" fill="none" stroke="#000" stroke-width="1"/>
<line x1="785.5" y1="1094.2" x2="785.5" y2="1109.8" stroke="#000" stroke-width="1"/>
<line x1="785.5" y1="1136.6" x2="785.5" y2="1150.3" stroke="#000" stroke-width="1"/>
<line x1="754" y1="1123.2" x2="816.8" y2="1123.2" stroke="#000" stroke-width="1"/>
<line x1="824" y1="1123.2" x2="831" y2="1123.2" stroke="#000" stroke-width="1"/>
<line x1="838.2" y1="1123.2" x2="901.7" y2="1123.2" stroke="#000" stroke-width="1"/>
<path d="M847.2 1110.3 L892.4 1100.4 L892.4 1145.5 L847.2 1136.1 Z" fill="none" stroke="#000" stroke-width="1" stroke-linejoin="round"/>
<line x1="782.32" y1="1120.02" x2="788.68" y2="1126.38" stroke="#000" stroke-width="1"/>
<line x1="788.68" y1="1120.02" x2="782.32" y2="1126.38" stroke="#000" stroke-width="1"/>
<line x1="785.5" y1="1118.2" x2="785.5" y2="1128.2" stroke="#000" stroke-width="1"/>
<path d="M939 1079.9 H980.8 V1120.8 H939 V1117.8 H976 V1083.8 H939 Z" fill="#000"/>
<rect x="939" y="1087.9" width="6" height="32.9" fill="#000"/>
<path d="M945 1087.9 H960.5 Q967.2 1088 967.2 1094.8 V1098.5 Q967 1103.5 960.5 1104.6 L971.2 1113.8 H963.2 L947 1099.1 H956.5 Q960 1098.9 960 1096.4 Q960 1093.9 957.7 1093.9 H945 Z" fill="#000"/>
<path fill-rule="evenodd" d="M985 1080.3 H1010.5 Q1020.5 1080.3 1020.5 1088 Q1020.5 1093.2 1013.5 1095.2 L1021.5 1105.4 H1007.5 L1001.5 1096.6 H996.8 V1105.4 H985 Z M996.8 1085.9 H1004.8 Q1007.6 1085.9 1007.6 1088.75 Q1007.6 1091.6 1004.8 1091.6 H996.8 Z" fill="#000"/>
<path fill-rule="evenodd" d="M1020.8 1093.25 A25.1 13.65 0 1 0 1071 1093.25 A25.1 13.65 0 1 0 1020.8 1093.25 Z M1032.7 1094.1 A13.15 7 0 1 0 1059 1094.1 A13.15 7 0 1 0 1032.7 1094.1 Z" fill="#000"/>
<path fill-rule="evenodd" d="M1074.1 1080.3 H1099.7 Q1113.7 1080.3 1113.7 1092.85 Q1113.7 1105.4 1099.7 1105.4 H1074.1 Z M1086.0 1085.9 V1101 H1094.1 Q1101.1 1101 1101.1 1093.45 Q1101.1 1085.9 1094.1 1085.9 Z" fill="#000"/>
<path fill-rule="evenodd" d="M1116.8 1080.3 H1141.7 Q1155.7 1080.3 1155.7 1092.85 Q1155.7 1105.4 1141.7 1105.4 H1116.8 Z M1128.7 1085.9 V1101 H1137.4 Q1144.4 1101 1144.4 1093.45 Q1144.4 1085.9 1137.4 1085.9 Z" fill="#000"/>
<path d="M1151.3 1080.6 H1172.3 L1176.3 1087.6 L1181 1080.6 H1194.2 L1178.5 1094.2 V1105.4 H1165 V1094.2 Z" fill="#000"/>
<text x="983.57" y="1119.8" font-size="13.52" font-weight="bold" textLength="209.26" lengthAdjust="spacingAndGlyphs" fill="#000" stroke="#000" stroke-width="0.5">E N G I N E E R I N G</text>
<text x="0" y="0" font-size="24.71" textLength="29.5" lengthAdjust="spacing" transform="translate(326.54 114) scale(1 1)" fill="#000" stroke="#000" stroke-width="0.2">92</text>
<text x="0" y="0" font-size="24.71" textLength="27.39" lengthAdjust="spacing" transform="translate(713.01 119.1) scale(0.95 1)" fill="#000" stroke="#000" stroke-width="0.2">16</text>
<text x="0" y="0" font-size="23.69" textLength="26.8" lengthAdjust="spacing" transform="translate(1304.6 448.6) scale(1 1)" fill="#000" stroke="#000" stroke-width="0.2">15</text>
<text x="995.34" y="459.8" font-size="24.56" font-weight="bold" textLength="16.25" lengthAdjust="spacingAndGlyphs" fill="#000">A</text>
<text x="995.44" y="803.2" font-size="24.56" font-weight="bold" textLength="16.36" lengthAdjust="spacingAndGlyphs" fill="#000">A</text>
<g transform="translate(97.1 166.2) rotate(14.84)"><circle cx="22.3" cy="-14.6" r="8.5" fill="none" stroke="#000" stroke-width="1"/><line x1="17.51" y1="-2.73" x2="27.09" y2="-26.47" stroke="#000" stroke-width="1"/></g>
<text x="33.99" y="-7.6" font-size="23.98" textLength="29.34" lengthAdjust="spacingAndGlyphs" transform="translate(97.1 166.2) rotate(14.84)" fill="#000" stroke="#000" stroke-width="0.1">12</text>
<g transform="translate(79.1 405.6) rotate(-24.2)"><circle cx="22.3" cy="-14.6" r="8.5" fill="none" stroke="#000" stroke-width="1"/><line x1="17.51" y1="-2.73" x2="27.09" y2="-26.47" stroke="#000" stroke-width="1"/></g>
<text x="34.81" y="-7.6" font-size="23.98" textLength="28.18" lengthAdjust="spacingAndGlyphs" transform="translate(79.1 405.6) rotate(-24.2)" fill="#000" stroke="#000" stroke-width="0.1">90</text>
<g transform="translate(705.1 566.6) rotate(-14.93)"><circle cx="22.3" cy="-14.6" r="8.5" fill="none" stroke="#000" stroke-width="1"/><line x1="17.51" y1="-2.73" x2="27.09" y2="-26.47" stroke="#000" stroke-width="1"/></g>
<text x="33.99" y="-7.6" font-size="23.98" textLength="29.34" lengthAdjust="spacingAndGlyphs" transform="translate(705.1 566.6) rotate(-14.93)" fill="#000" stroke="#000" stroke-width="0.1">12</text>
<g transform="translate(325.6 296.5) rotate(-48.67)"><circle cx="29.9" cy="-14" r="8.5" fill="none" stroke="#000" stroke-width="1"/><line x1="25.11" y1="-2.13" x2="34.69" y2="-25.87" stroke="#000" stroke-width="1"/></g>
<text x="42.69" y="-7.6" font-size="23.98" textLength="28.07" lengthAdjust="spacingAndGlyphs" transform="translate(325.6 296.5) rotate(-48.67)" fill="#000" stroke="#000" stroke-width="0.1">55</text>
<text x="-640.12" y="1329" font-size="24.71" textLength="46.76" lengthAdjust="spacingAndGlyphs" transform="rotate(-90)" fill="#000" stroke="#000" stroke-width="0.15">61.9</text>
<text x="-640.13" y="1354" font-size="24.71" textLength="47.25" lengthAdjust="spacingAndGlyphs" transform="rotate(-90)" fill="#000" stroke="#000" stroke-width="0.15">61.7</text>
<g transform="rotate(-90)"><circle cx="-654.6" cy="1334.7" r="8.9" fill="none" stroke="#000" stroke-width="1"/><line x1="-659.39" y1="1346.57" x2="-649.81" y2="1322.83" stroke="#000" stroke-width="1"/></g>
<text x="-584.11" y="1198" font-size="24.71" textLength="33.05" lengthAdjust="spacingAndGlyphs" transform="rotate(-90)" fill="#000" stroke="#000" stroke-width="0.15">6.3</text>
<text x="0" y="0" font-size="30.23" font-weight="bold" textLength="398.01" lengthAdjust="spacing" transform="translate(163.98 524) scale(0.78 1)" fill="#000">WATERJET CUT PROFILE</text>
<text x="0" y="0" font-size="24.42" font-weight="bold" textLength="178.88" lengthAdjust="spacing" transform="translate(1174.3 816.4) scale(0.85 1)" fill="#000">SECTION A-A</text>
<text x="0" y="0" font-size="22.67" font-weight="bold" textLength="137.99" lengthAdjust="spacing" transform="translate(1209.47 998) scale(0.88 1)" fill="#000">MATERIAL:-</text>
<text x="0" y="0" font-size="23.26" textLength="308.74" lengthAdjust="spacing" transform="translate(1340.26 998.6) scale(0.72 1)" fill="#000" stroke="#000" stroke-width="0.12">316L STAINLESS STEEL</text>
<text x="0" y="0" font-size="14.68" textLength="762.81" lengthAdjust="spacing" transform="translate(68.44 1068.2) scale(0.85 1)" fill="#000" stroke="#000" stroke-width="0.1">UNLESS OTHERWISE SPECIFIED: TOLERANCES: MACHINE + / - 0.25mm  FABRICATION + / - 1.0 mm</text>
<text x="66.82" y="1109.8" font-size="12.35" textLength="308.68" lengthAdjust="spacingAndGlyphs" fill="#000" stroke="#000" stroke-width="0.2">THIS DRAWING IS THE PROPERTY OF MECHANICAL</text>
<text x="66.11" y="1128.4" font-size="12.35" textLength="355.17" lengthAdjust="spacingAndGlyphs" fill="#000" stroke="#000" stroke-width="0.2">ENGINEERING &amp; CAD SERVICES (MECS) Pty Ltd &amp; MUST NOT</text>
<text x="66.09" y="1146.7" font-size="12.35" textLength="357.93" lengthAdjust="spacingAndGlyphs" fill="#000" stroke="#000" stroke-width="0.2">BE MANUFACTURED FROM,COPIED OR TRANSMITTED TO A</text>
<text x="66.82" y="1165" font-size="12.35" textLength="323.09" lengthAdjust="spacingAndGlyphs" fill="#000" stroke="#000" stroke-width="0.2">THIRD PARTY WITHOUT THE PRIOR APPROVAL FROM</text>
<text x="66.11" y="1183.6" font-size="12.35" textLength="359.97" lengthAdjust="spacingAndGlyphs" fill="#000" stroke="#000" stroke-width="0.2">MECHANICAL ENGINEERING &amp; CAD SERVICES (MECS) Pty Ltd</text>
<g fill="none" stroke="#000" stroke-width="1.6" stroke-linejoin="miter" shape-rendering="geometricPrecision"><path d="M551.8 1110.4 L553 1093.4 L558 1098.6 L563 1093.4 L564.2 1110.4 M550 1110.6 H554.5 M562.5 1110.6 H567"/><path d="M582.9 1093.9 H574.9 V1109.9 H584 M574.9 1096.9 H582"/><path d="M599.3 1095.2 Q599.3 1093.8 597.6 1093.8 H594.6 L591.9 1096.6 V1101.5 L601.6 1110.1"/><path d="M617.6 1095.4 L616.3 1093.8 H610.9 Q609.6 1093.8 609.6 1095.5 V1096.6 L618.1 1103.6 V1107.6 L615.3 1110.4 H610.7 L608.8 1108.3"/></g>
<text x="0" y="0" font-size="15.12" textLength="302.72" lengthAdjust="spacing" transform="translate(468.87 1132.8) scale(0.75 1)" fill="#000" stroke="#000" stroke-width="0.25">Mechanical Engineering &amp; CAD Services</text>
<text x="0" y="0" font-size="12.65" textLength="277.92" lengthAdjust="spacing" transform="translate(494.87 1150) scale(0.65 1)" fill="#000" stroke="#000" stroke-width="0.25">11 Campbell Place WAGGA NSW 2650</text>
<text x="0" y="0" font-size="13.23" textLength="133.83" lengthAdjust="spacing" transform="translate(534.85 1170.1) scale(0.6 1)" fill="#000" stroke="#000" stroke-width="0.25">Ph: - 0409 985 816</text>
<text x="0" y="0" font-size="13.37" textLength="228.75" lengthAdjust="spacing" transform="translate(502.75 1186.1) scale(0.68 1)" fill="#000" stroke="#000" stroke-width="0.25">Email: nick@mecservices.com.au</text>
<text x="0" y="0" font-size="16.86" textLength="147.88" lengthAdjust="spacing" transform="translate(759.29 1060.9) scale(0.8 1)" fill="#000" stroke="#000" stroke-width="0.1">DIMENSIONS IN</text>
<text x="0" y="0" font-size="20.64" textLength="162.64" lengthAdjust="spacing" transform="translate(757.83 1080) scale(0.75 1)" fill="#000" stroke="#000" stroke-width="0.1">MILLIMETRES</text>
<text x="0" y="0" font-size="15.99" textLength="260.12" lengthAdjust="spacing" transform="translate(723.62 1169) scale(0.78 1)" fill="#000" stroke="#000" stroke-width="0.1">THIRD ANGLE PROJECTION</text>
<text x="0" y="0" font-size="11.63" textLength="91.86" lengthAdjust="spacing" transform="translate(742.96 1191) scale(0.85 1)" fill="#000" stroke="#000" stroke-width="0.25">WEIGHT: 1 1 kg</text>
<text x="0" y="0" font-size="15.41" textLength="61.01" lengthAdjust="spacing" transform="translate(939.27 1069.8) scale(0.8 1)" fill="#000" stroke="#000" stroke-width="0.1">CLIENT</text>
<text x="0" y="0" font-size="16.42" textLength="283.14" lengthAdjust="spacing" transform="translate(966.4 1144) scale(0.72 1)" fill="#000" stroke="#000" stroke-width="0.1">14 Waratah St TUMUT NSW 2720</text>
<text x="0" y="0" font-size="16.72" textLength="157.88" lengthAdjust="spacing" transform="translate(1013.54 1164) scale(0.7 1)" fill="#000" stroke="#000" stroke-width="0.1">Ph: - 02 6947 4039</text>
<text x="0" y="0" font-size="16.13" textLength="204.27" lengthAdjust="spacing" transform="translate(987.14 1183.7) scale(0.8 1)" fill="#000" stroke="#000" stroke-width="0.1">Email: roddyeng.com.au</text>
<text x="0" y="0" font-size="11.63" textLength="38.18" lengthAdjust="spacing" transform="translate(1207.72 1060.2) scale(0.7 1)" fill="#000" stroke="#000" stroke-width="0.25">TITLE:</text>
<text x="0" y="0" font-size="32.27" textLength="470.21" lengthAdjust="spacing" transform="translate(1255.1 1098.4) scale(0.85 1)" fill="#000" stroke="#fff" stroke-width="0.39">50NB x 92 SQUARE FLANGE</text>
<text x="0" y="0" font-size="11.19" textLength="64.29" lengthAdjust="spacing" transform="translate(1207.72 1151.7) scale(0.85 1)" fill="#000" stroke="#000" stroke-width="0.08">DWG NO.</text>
<text x="0" y="0" font-size="24.71" textLength="132.64" lengthAdjust="spacing" transform="translate(1277.51 1159.4) scale(0.95 1)" fill="#000" stroke="#000" stroke-width="0.2">3674-35-10</text>
<text x="1648.96" y="1161" font-size="22.53" textLength="27.81" lengthAdjust="spacingAndGlyphs" fill="#000" stroke="#000" stroke-width="0.15">A4</text>
<text x="0" y="0" font-size="11.19" textLength="52.54" lengthAdjust="spacing" transform="translate(1207.72 1188.7) scale(0.85 1)" fill="#000" stroke="#000" stroke-width="0.08">DRAWN</text>
<text x="0" y="0" font-size="17.88" textLength="133.34" lengthAdjust="spacing" transform="translate(1272.14 1190.2) scale(0.72 1)" fill="#000" stroke="#000" stroke-width="0.05">N DE BRUYN</text>
<text x="0" y="0" font-size="11.19" textLength="35.16" lengthAdjust="spacing" transform="translate(1403.92 1188.7) scale(0.85 1)" fill="#000" stroke="#000" stroke-width="0.08">DATE</text>
<text x="0" y="0" font-size="18.75" textLength="103.02" lengthAdjust="spacing" transform="translate(1437.2 1190.2) scale(0.85 1)" fill="#000" stroke="#000" stroke-width="0.05">26/08/2024</text>
<text x="0" y="0" font-size="12.79" textLength="71.09" lengthAdjust="spacing" transform="translate(1548.46 1189.3) scale(0.75 1)" fill="#000" stroke="#000" stroke-width="0.25">SCALE:1:2</text>
<text x="0" y="0" font-size="13.08" textLength="94.45" lengthAdjust="spacing" transform="translate(1627.07 1189.3) scale(0.72 1)" fill="#000" stroke="#000" stroke-width="0.25">SHEET 1 OF 2</text>
</svg>
</body></html>
